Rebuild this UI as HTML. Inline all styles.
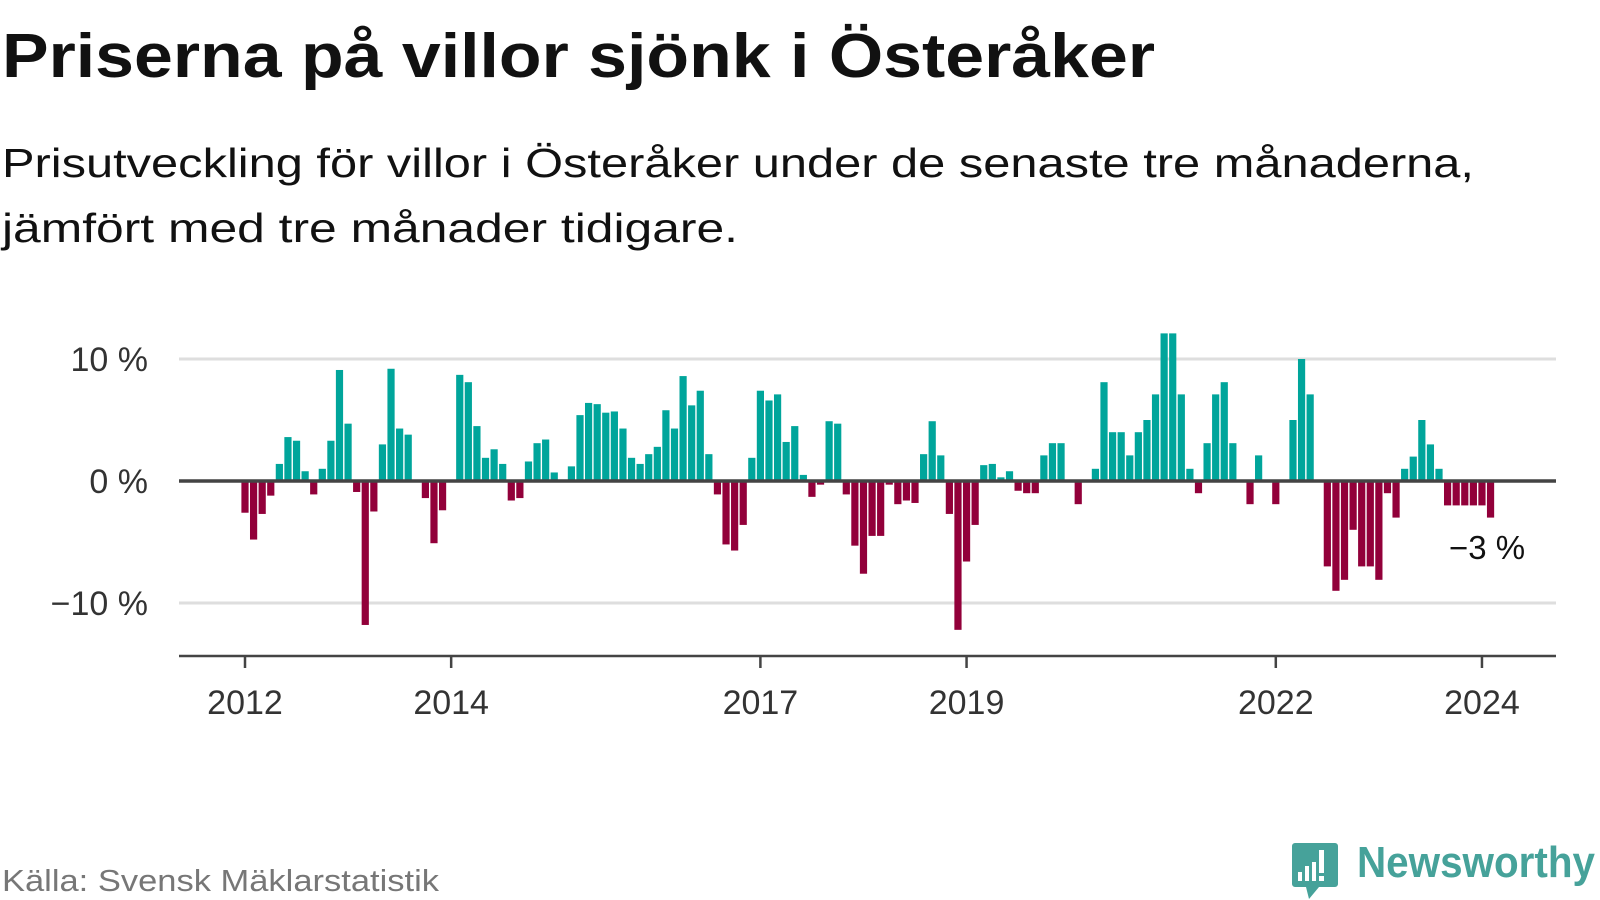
<!DOCTYPE html>
<html><head><meta charset="utf-8"><style>
html,body{margin:0;padding:0;background:#fff;}
svg{display:block;font-family:"Liberation Sans","DejaVu Sans",sans-serif;}
</style></head><body>
<svg id="chart" width="1600" height="900" viewBox="0 0 1600 900">
<text x="2" y="77" font-size="62" font-weight="bold" fill="#111" textLength="1153" lengthAdjust="spacingAndGlyphs">Priserna på villor sjönk i Österåker</text>
<text x="2" y="177" font-size="41" fill="#111" textLength="1472" lengthAdjust="spacingAndGlyphs">Prisutveckling för villor i Österåker under de senaste tre månaderna,</text>
<text x="2" y="242" font-size="41" fill="#111" textLength="736" lengthAdjust="spacingAndGlyphs">jämfört med tre månader tidigare.</text>
<g id="grid"></g>
<g id="bars"></g>
<g id="axis"></g>
<g id="ylab"></g>
<text x="1449" y="559" font-size="33" fill="#111">−3 %</text>
<text x="2" y="891" font-size="31" fill="#777" textLength="437" lengthAdjust="spacingAndGlyphs">Källa: Svensk Mäklarstatistik</text>
<g>
<path d="M1295 843 h40 a3 3 0 0 1 3 3 v38 a3 3 0 0 1 -3 3 h-16 l-10 12 l-3 -12 h-11 a3 3 0 0 1 -3 -3 v-38 a3 3 0 0 1 3 -3z" fill="#46a29a"/>
<rect x="1298" y="872" width="4" height="9" fill="#fff"/><rect x="1305" y="866" width="4" height="15" fill="#fff"/><rect x="1312" y="862" width="4" height="19" fill="#fff"/><rect x="1319" y="850" width="5" height="23" fill="#fff"/><rect x="1319" y="876" width="5" height="5" fill="#fff"/>
<text x="1357" y="877" font-size="44" font-weight="bold" fill="#46a29a" textLength="238" lengthAdjust="spacingAndGlyphs">Newsworthy</text>
</g>
</svg>
<script>
const values = [-2.6,-4.8,-2.7,-1.2,1.4,3.6,3.3,0.8,-1.1,1.0,3.3,9.1,4.7,-0.9,-11.8,-2.5,3.0,9.2,4.3,3.8,
0,-1.4,-5.1,-2.4,0,8.7,8.1,4.5,1.9,2.6,1.4,-1.6,-1.4,1.6,3.1,3.4,0.7,0,1.2,5.4,
6.4,6.3,5.6,5.7,4.3,1.9,1.4,2.2,2.8,5.8,4.3,8.6,6.2,7.4,2.2,-1.1,-5.2,-5.7,-3.6,1.9,
7.4,6.6,7.1,3.2,4.5,0.5,-1.3,-0.3,4.9,4.7,-1.1,-5.3,-7.6,-4.5,-4.5,-0.3,-1.9,-1.6,-1.8,2.2,
4.9,2.1,-2.7,-12.2,-6.6,-3.6,1.3,1.4,0.3,0.8,-0.8,-1.0,-1.0,2.1,3.1,3.1,0,-1.9,0,1.0,
8.1,4.0,4.0,2.1,4.0,5.0,7.1,12.1,12.1,7.1,1.0,-1.0,3.1,7.1,8.1,3.1,0,-1.9,2.1,0,
-1.9,0,5.0,10.0,7.1,0,-7.0,-9.0,-8.1,-4.0,-7.0,-7.0,-8.1,-1.0,-3.0,1.0,2.0,5.0,3.0,1.0,
-2.0,-2.0,-2.0,-2.0,-2.0,-3.0];
const yTicks = [10, 0, -10];
const yTickLabels = ["10 %", "0 %", "−10 %"];
const xTickYears = [2012, 2014, 2017, 2019, 2022, 2024];
const startYear = 2012;

const NS = "http://www.w3.org/2000/svg";
const x0 = 245, monthW = 8.59, plotL = 179, plotR = 1556;
const yZero = 481, pxPer = 12.2;
function xScale(i){ return x0 + i*monthW; }
function yScale(v){ return yZero - v*pxPer; }
function mk(tag, attrs, parent){ const e=document.createElementNS(NS,tag); for(const k in attrs) e.setAttribute(k,attrs[k]); parent.appendChild(e); return e; }

const grid = document.getElementById('grid');
const ylab = document.getElementById('ylab');
yTicks.forEach((t,k)=>{
  if(t!==0){
    const l = mk('line',{x1:plotL,x2:plotR,y1:yScale(t),y2:yScale(t),stroke:'#dedede','stroke-width':3},grid);
    
    
  }
  const tx = mk('text',{x:148,y:yScale(t)+12,'font-size':34,fill:'#333','text-anchor':'end'},ylab);
  tx.textContent = yTickLabels[k];
  
  
});

const bars = document.getElementById('bars');
values.forEach((v,i)=>{
  if(v===0) return;
  const cx = xScale(i);
  const y = v>0 ? yScale(v) : yZero;
  const h = Math.abs(v)*pxPer;
  const r = mk('rect',{x:(cx-3.6).toFixed(2),y:y.toFixed(2),width:7.2,height:h.toFixed(2),fill:v>0?'#00a59b':'#92003a'},bars);
  
  
});

const axis = document.getElementById('axis');
const zl = mk('line',{x1:plotL,x2:plotR,y1:yZero,y2:yZero,stroke:'#444','stroke-width':3.5},axis);


const bl = mk('line',{x1:plotL,x2:plotR,y1:656,y2:656,stroke:'#444','stroke-width':2.5},axis);


xTickYears.forEach(yr=>{
  const x = xScale((yr-startYear)*12);
  const tk = mk('line',{x1:x,x2:x,y1:656,y2:668,stroke:'#444','stroke-width':2.5},axis);
  
  
  const t = mk('text',{x:x,y:714,'font-size':34,fill:'#333','text-anchor':'middle'},axis);
  t.textContent = yr;
  
  
});
</script>
</body></html>
